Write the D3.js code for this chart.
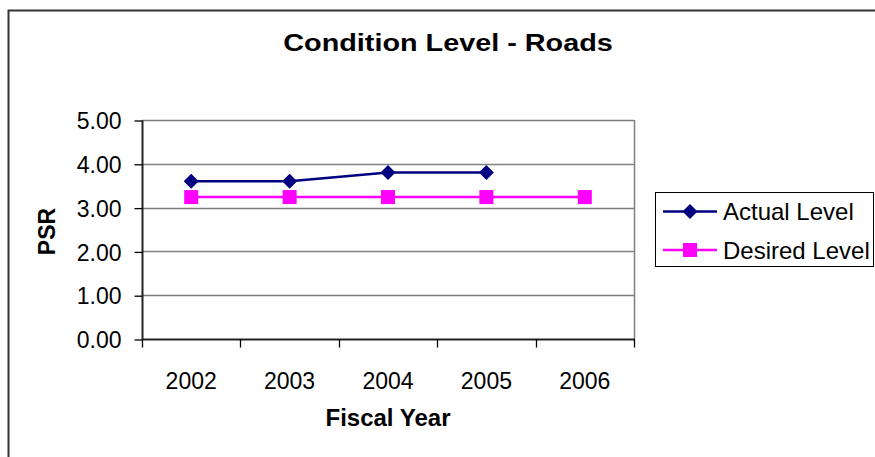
<!DOCTYPE html>
<html>
<head>
<meta charset="utf-8">
<script src="https://cdn.jsdelivr.net/npm/d3@7"></script>
<style>
  body { margin: 0; background: #fff; }
  svg { font-family: "Liberation Sans", Arial, sans-serif; display: block; }
</style>
</head>
<body>
<div id="chart"></div>
<script>
// data
const years = ['2002', '2003', '2004', '2005', '2006'];
const actualLevel = [3.6, 3.6, 3.8, 3.8, null];
const desiredLevel = [3.24, 3.24, 3.24, 3.24, 3.24];
const yTicks = [0, 1, 2, 3, 4, 5];

const width = 875;
const height = 457;
const plot = { left: 142, right: 634, top: 120, bottom: 339 };

const svg = d3.select('#chart').append('svg')
  .attr('width', width)
  .attr('height', height);

// outer chart frame (cut off on the right and bottom)
svg.append('rect')
  .attr('x', 8.5).attr('y', 10.5)
  .attr('width', 900).attr('height', 500)
  .attr('fill', 'none')
  .attr('stroke', '#333')
  .attr('stroke-width', 2);

// title is drawn a bit wider than the font, like the source image
svg.append('g')
  .attr('transform', 'translate(448,51) scale(1.2,1)')
  .append('text')
  .attr('text-anchor', 'middle')
  .attr('font-size', 24)
  .attr('font-weight', 'bold')
  .text('Condition Level - Roads');

const x = d3.scaleBand().domain(years).range([plot.left, plot.right]);
const y = d3.scaleLinear().domain([0, 5]).range([plot.bottom, plot.top]);

// gridlines
svg.append('g')
  .selectAll('line')
  .data(yTicks.filter(d => d > 0))
  .join('line')
  .attr('x1', plot.left).attr('x2', plot.right)
  .attr('y1', d => Math.round(y(d)) + 0.5)
  .attr('y2', d => Math.round(y(d)) + 0.5)
  .attr('stroke', '#808080')
  .attr('stroke-width', 1.5);

// right border of plot area
svg.append('line')
  .attr('x1', plot.right + 0.5).attr('x2', plot.right + 0.5)
  .attr('y1', plot.top).attr('y2', plot.bottom)
  .attr('stroke', '#808080')
  .attr('stroke-width', 1.5);

// y axis
const yAxis = d3.axisLeft(y)
  .tickValues(yTicks)
  .tickSize(8)
  .tickPadding(13)
  .tickFormat(d3.format('.2f'));
const yAxisG = svg.append('g')
  .attr('transform', `translate(${plot.left + 0.5},0.5)`)
  .call(yAxis);
yAxisG.selectAll('text').attr('font-size', 23).attr('fill', '#000').attr('dy', '0.36em');
yAxisG.selectAll('line, path').attr('stroke', '#000').attr('stroke-width', 1.3);
yAxisG.select('.domain').attr('d', `M0,${plot.top}V${plot.bottom}`).attr('stroke', '#222').attr('stroke-width', 2);

// x axis: labels centered in categories, ticks on the category edges
const xAxisG = svg.append('g')
  .attr('transform', `translate(0,${plot.bottom + 0.5})`);
xAxisG.append('line')
  .attr('x1', plot.left).attr('x2', plot.right + 1)
  .attr('stroke', '#222').attr('stroke-width', 2);
xAxisG.selectAll('.tick-mark')
  .data(years.map(d => x(d)).concat([x.range()[1]]))
  .join('line')
  .attr('class', 'tick-mark')
  .attr('x1', d => Math.round(d) + 0.5).attr('x2', d => Math.round(d) + 0.5)
  .attr('y1', 0).attr('y2', 8)
  .attr('stroke', '#000').attr('stroke-width', 1.3);
xAxisG.selectAll('.tick-label')
  .data(years)
  .join('text')
  .attr('class', 'tick-label')
  .attr('x', d => x(d) + x.bandwidth() / 2)
  .attr('y', 49)
  .attr('text-anchor', 'middle')
  .attr('font-size', 23)
  .text(d => d);

// axis titles
svg.append('text')
  .attr('x', (plot.left + plot.right) / 2).attr('y', 426)
  .attr('text-anchor', 'middle')
  .attr('font-size', 24)
  .attr('font-weight', 'bold')
  .text('Fiscal Year');

svg.append('text')
  .attr('transform', `translate(55,${(plot.top + plot.bottom) / 2 + 2}) rotate(-90)`)
  .attr('text-anchor', 'middle')
  .attr('font-size', 23)
  .attr('font-weight', 'bold')
  .text('PSR');

// series
const cx = i => x(years[i]) + x.bandwidth() / 2;
const series = [
  { name: 'Actual Level', values: actualLevel, color: '#000080', shape: 'diamond' },
  { name: 'Desired Level', values: desiredLevel, color: '#FF00FF', shape: 'square' }
];

const diamond = s => `M0,${-s}L${s},0L0,${s}L${-s},0Z`;

const drawMarker = (g, shape, color, size) => {
  if (shape === 'diamond') {
    g.append('path').attr('d', diamond(size)).attr('fill', color);
  } else {
    g.append('rect')
      .attr('x', -size).attr('y', -size)
      .attr('width', size * 2).attr('height', size * 2)
      .attr('fill', color);
  }
};

// draw desired first so actual sits on top
series.slice().reverse().forEach(s => {
  const pts = s.values.map((v, i) => ({ v, i })).filter(p => p.v !== null);
  const line = d3.line()
    .x(p => cx(p.i))
    .y(p => y(p.v));
  svg.append('path')
    .datum(pts)
    .attr('d', line)
    .attr('fill', 'none')
    .attr('stroke', s.color)
    .attr('stroke-width', 2.5);
  pts.forEach(p => {
    const g = svg.append('g').attr('transform', `translate(${cx(p.i)},${y(p.v)})`);
    drawMarker(g, s.shape, s.color, s.shape === 'diamond' ? 7.5 : 7);
  });
});

// legend
const legend = svg.append('g');
legend.append('rect')
  .attr('x', 655.5).attr('y', 192.5)
  .attr('width', 218).attr('height', 74)
  .attr('fill', '#fff')
  .attr('stroke', '#000')
  .attr('stroke-width', 1);
series.forEach((s, i) => {
  const ly = 211.5 + i * 38.5;
  legend.append('line')
    .attr('x1', 663).attr('x2', 717)
    .attr('y1', ly).attr('y2', ly)
    .attr('stroke', s.color).attr('stroke-width', 2.5);
  const g = legend.append('g').attr('transform', `translate(690,${ly})`);
  drawMarker(g, s.shape, s.color, s.shape === 'diamond' ? 7.5 : 7);
  legend.append('text')
    .attr('x', 723).attr('y', ly)
    .attr('dy', '0.36em')
    .attr('font-size', 24)
    .text(s.name);
});
</script>
</body>
</html>
